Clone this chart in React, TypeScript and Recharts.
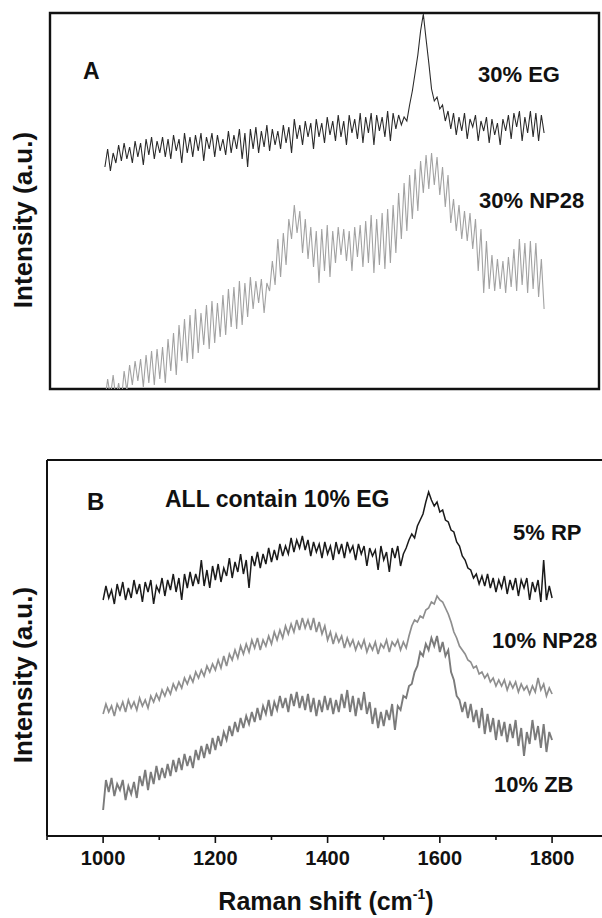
import React from "react";
import { LineChart, Line, XAxis, YAxis, ReferenceArea, ReferenceLine } from "recharts";

// Raman shift, cm-1
const shift = [
  1000, 1005, 1010, 1015, 1020, 1025, 1030, 1035, 1040, 1045,
  1050, 1055, 1060, 1065, 1070, 1075, 1080, 1085, 1090, 1095,
  1100, 1105, 1110, 1115, 1120, 1125, 1130, 1135, 1140, 1145,
  1150, 1155, 1160, 1165, 1170, 1175, 1180, 1185, 1190, 1195,
  1200, 1205, 1210, 1215, 1220, 1225, 1230, 1235, 1240, 1245,
  1250, 1255, 1260, 1265, 1270, 1275, 1280, 1285, 1290, 1295,
  1300, 1305, 1310, 1315, 1320, 1325, 1330, 1335, 1340, 1345,
  1350, 1355, 1360, 1365, 1370, 1375, 1380, 1385, 1390, 1395,
  1400, 1405, 1410, 1415, 1420, 1425, 1430, 1435, 1440, 1445,
  1450, 1455, 1460, 1465, 1470, 1475, 1480, 1485, 1490, 1495,
  1500, 1505, 1510, 1515, 1520, 1525, 1530, 1535, 1540, 1545,
  1550, 1555, 1560, 1565, 1570, 1575, 1580, 1585, 1590, 1595,
  1600, 1605, 1610, 1615, 1620, 1625, 1630, 1635, 1640, 1645,
  1650, 1655, 1660, 1665, 1670, 1675, 1680, 1685, 1690, 1695,
  1700, 1705, 1710, 1715, 1720, 1725, 1730, 1735, 1740, 1745,
  1750, 1755, 1760, 1765, 1770, 1775, 1780, 1785, 1790, 1795,
  1800,
];

// panel A, offset intensities (a.u.)
const eg30 = [
  222, 240, 218, 236, 226, 244, 228, 246, 230, 242,
  226, 248, 232, 246, 224, 250, 234, 252, 230, 248,
  236, 252, 232, 250, 230, 254, 238, 250, 226, 256,
  236, 252, 232, 254, 238, 256, 228, 252, 240, 256,
  232, 254, 238, 250, 234, 258, 236, 254, 240, 260,
  230, 256, 222, 260, 240, 262, 236, 258, 242, 264,
  238, 260, 244, 258, 240, 264, 246, 262, 236, 270,
  250, 264, 244, 268, 252, 266, 240, 270, 252, 266,
  246, 272, 254, 268, 248, 274, 252, 268, 244, 274,
  256, 270, 250, 276, 246, 272, 256, 276, 244, 274,
  258, 272, 252, 278, 248, 276, 260, 274, 264, 272,
  268, 284, 298, 316, 334, 358, 375, 350, 326, 300,
  288, 292, 280, 284, 268, 278, 260, 276, 254, 272,
  258, 276, 250, 270, 262, 274, 248, 268, 258, 272,
  246, 270, 254, 266, 244, 270, 258, 274, 250, 276,
  262, 278, 248, 272, 256, 278, 252, 276, 248, 274,
  256,
];
const np28_30 = [
  -12, 10, -8, 14, -10, 6, -12, 18, -2, 24,
  4, 28, 8, 30, 2, 34, 6, 38, 4, 40,
  10, 42, 6, 50, 18, 56, 14, 64, 28, 70,
  26, 74, 30, 80, 36, 76, 44, 84, 40, 88,
  46, 86, 52, 94, 54, 100, 62, 102, 60, 108,
  64, 106, 72, 112, 80, 108, 86, 110, 76, 106,
  98, 128, 104, 150, 112, 156, 124, 170, 150, 184,
  156, 178, 136, 170, 130, 162, 122, 158, 106, 160,
  118, 164, 112, 158, 126, 162, 134, 160, 128, 158,
  118, 162, 132, 164, 122, 168, 126, 174, 116, 170,
  124, 176, 120, 180, 126, 184, 136, 196, 150, 206,
  158, 214, 170, 220, 178, 228, 196, 234, 200, 236,
  204, 232, 194, 222, 182, 214, 166, 190, 158, 184,
  150, 178, 148, 176, 140, 170, 118, 160, 96, 148,
  100, 134, 98, 130, 100, 128, 96, 132, 102, 140,
  98, 150, 104, 146, 96, 148, 100, 146, 92, 130,
  80,
];

// panel B, offset intensities (a.u.)
const rp5 = [
  236, 250, 238, 246, 232, 252, 240, 254, 236, 248,
  238, 256, 242, 252, 234, 254, 244, 256, 232, 250,
  244, 258, 240, 256, 246, 262, 244, 258, 236, 262,
  248, 264, 250, 262, 252, 276, 250, 266, 248, 270,
  256, 272, 254, 268, 260, 278, 258, 274, 264, 282,
  262, 276, 248, 280, 270, 284, 268, 282, 272, 288,
  274, 286, 276, 292, 280, 290, 282, 298, 284, 296,
  288, 300, 286, 296, 280, 294, 284, 292, 278, 294,
  282, 290, 276, 294, 282, 292, 278, 294, 284, 290,
  276, 292, 282, 290, 270, 288, 280, 286, 266, 290,
  276, 284, 264, 288, 278, 290, 270, 282, 288, 296,
  302, 298, 310, 316, 322, 334, 344, 336, 330, 334,
  324, 326, 316, 314, 306, 304, 294, 290, 280, 276,
  268, 266, 258, 262, 252, 260, 250, 262, 248, 258,
  244, 256, 248, 260, 242, 256, 246, 258, 240, 256,
  248, 258, 236, 254, 244, 256, 234, 276, 236, 250,
  238,
];
const np28_10 = [
  122, 132, 124, 130, 120, 132, 126, 134, 124, 136,
  128, 134, 126, 138, 130, 136, 128, 140, 134, 142,
  136, 146, 140, 148, 142, 152, 146, 154, 148, 158,
  152, 160, 154, 164, 158, 166, 160, 170, 164, 172,
  166, 176, 168, 180, 170, 182, 176, 186, 178, 190,
  182, 192, 184, 196, 188, 198, 186, 196, 190, 200,
  192, 204, 196, 206, 198, 210, 202, 212, 204, 216,
  206, 218, 208, 216, 206, 218, 204, 214, 202, 210,
  196, 204, 192, 202, 194, 200, 188, 198, 190, 196,
  186, 194, 188, 196, 184, 192, 186, 194, 182, 192,
  188, 196, 184, 194, 190, 196, 186, 194, 188, 200,
  210, 216, 214, 220, 218, 226, 228, 234, 232, 240,
  236, 234, 228, 222, 214, 204, 198, 190, 186, 182,
  176, 174, 168, 170, 162, 164, 158, 162, 154, 158,
  150, 156, 150, 156, 146, 154, 148, 154, 144, 152,
  146, 150, 142, 150, 144, 158, 146, 152, 140, 148,
  142,
];
const zb10 = [
  26, 56, 44, 58, 40, 52, 46, 56, 36, 50,
  42, 54, 38, 60, 50, 66, 46, 64, 52, 70,
  56, 68, 58, 72, 60, 76, 64, 78, 66, 82,
  70, 80, 68, 86, 76, 90, 78, 92, 82, 98,
  86, 100, 90, 104, 96, 110, 100, 114, 104, 118,
  108, 120, 112, 124, 114, 128, 116, 130, 122, 136,
  120, 134, 126, 140, 128, 138, 124, 142, 130, 144,
  128, 140, 126, 142, 124, 138, 120, 136, 124, 140,
  126, 138, 122, 136, 124, 142, 128, 146, 124, 140,
  120, 138, 126, 144, 122, 134, 112, 128, 108, 124,
  110, 126, 116, 132, 106, 130, 126, 140, 138, 150,
  152, 164, 170, 184, 180, 192, 186, 198, 190, 200,
  184, 194, 180, 186, 164, 156, 140, 136, 124, 134,
  118, 132, 114, 126, 108, 128, 102, 122, 104, 118,
  96, 116, 100, 114, 94, 112, 98, 116, 90, 108,
  80, 104, 92, 116, 96, 110, 88, 112, 84, 104,
  96,
];

const xTicks = [900, 1000, 1100, 1200, 1300, 1400, 1500, 1600, 1700, 1800, 1900];
const majorTicks = [1000, 1200, 1400, 1600, 1800];

const dataA = shift.map((x, i) => ({ x, eg: eg30[i], np: np28_30[i] }));
const dataB = shift.map((x, i) => ({ x, rp: rp5[i], np: np28_10[i], zb: zb10[i] }));

const font = "'Liberation Sans', Arial, sans-serif";

const BTick = (props: any) => {
  const { x, y, payload } = props;
  const major = majorTicks.includes(payload.value);
  return (
    <g>
      <line x1={x} x2={x} y1={y} y2={y + (major ? 7 : 4)} stroke="#111" strokeWidth={1.6} />
      {major && (
        <text x={x} y={y + 29} textAnchor="middle" fontFamily={font} fontWeight="bold" fontSize={20} fill="#111">
          {payload.value}
        </text>
      )}
    </g>
  );
};

const label = { fontFamily: font, fontWeight: "bold" as const, fill: "#111" };

export default function App() {
  return (
    <div style={{ position: "absolute", left: 0, top: 0, width: 602, height: 918, overflow: "hidden", background: "#fff" }}>
      <div style={{ position: "absolute", left: 0, top: 0 }}>
        <LineChart width={602} height={400} data={dataA} margin={{ top: 13, right: 3, bottom: 11, left: 50 }}>
          <XAxis type="number" dataKey="x" domain={[900, 1900]} hide />
          <YAxis domain={[0, 376]} hide allowDataOverflow />
          <Line dataKey="np" stroke="#a2a2a2" strokeWidth={1.1} dot={false} isAnimationActive={false} />
          <Line dataKey="eg" stroke="#2b2b2b" strokeWidth={1.1} dot={false} isAnimationActive={false} />
          <ReferenceArea x1={900} x2={1900} y1={0} y2={376} fill="none" stroke="#111" strokeWidth={2.4} />
        </LineChart>
      </div>
      <div style={{ position: "absolute", left: 0, top: 440 }}>
        <LineChart width={620} height={478} data={dataB} margin={{ top: 20, right: 11.8, bottom: 0, left: 47 }}>
          <XAxis
            type="number"
            dataKey="x"
            domain={[900, 1900]}
            ticks={xTicks}
            interval={0}
            height={82}
            tickSize={0}
            tickMargin={0}
            axisLine={{ stroke: "#111", strokeWidth: 2 }}
            tick={<BTick />}
          />
          <YAxis domain={[0, 376]} hide allowDataOverflow />
          <Line dataKey="zb" stroke="#7b7b7b" strokeWidth={1.9} dot={false} isAnimationActive={false} />
          <Line dataKey="np" stroke="#8e8e8e" strokeWidth={1.7} dot={false} isAnimationActive={false} />
          <Line dataKey="rp" stroke="#1a1a1a" strokeWidth={1.5} dot={false} isAnimationActive={false} />
          <ReferenceLine x={900} stroke="#111" strokeWidth={2} />
          <ReferenceLine y={376} stroke="#111" strokeWidth={2} />
        </LineChart>
      </div>
      <svg width={602} height={918} style={{ position: "absolute", left: 0, top: 0, pointerEvents: "none" }}>
        <text x={83} y={79} fontSize={23} {...label}>A</text>
        <text x={478} y={82} fontSize={22} {...label}>30% EG</text>
        <text x={479} y={208} fontSize={22} {...label}>30% NP28</text>
        <text x={87} y={510} fontSize={24} {...label}>B</text>
        <text x={165} y={507} fontSize={23} {...label}>ALL contain 10% EG</text>
        <text x={513} y={540} fontSize={22} {...label}>5% RP</text>
        <text x={492} y={648} fontSize={22} {...label}>10% NP28</text>
        <text x={494} y={792} fontSize={22} {...label}>10% ZB</text>
        <text transform="translate(32,220) rotate(-90)" textAnchor="middle" fontSize={26} {...label}>Intensity (a.u.)</text>
        <text transform="translate(32,675) rotate(-90)" textAnchor="middle" fontSize={26} {...label}>Intensity (a.u.)</text>
        <text x={326} y={910} textAnchor="middle" fontSize={25} {...label}>
          Raman shift (cm<tspan fontSize={14} dy={-11}>-1</tspan><tspan dy={11}>)</tspan>
        </text>
      </svg>
    </div>
  );
}
